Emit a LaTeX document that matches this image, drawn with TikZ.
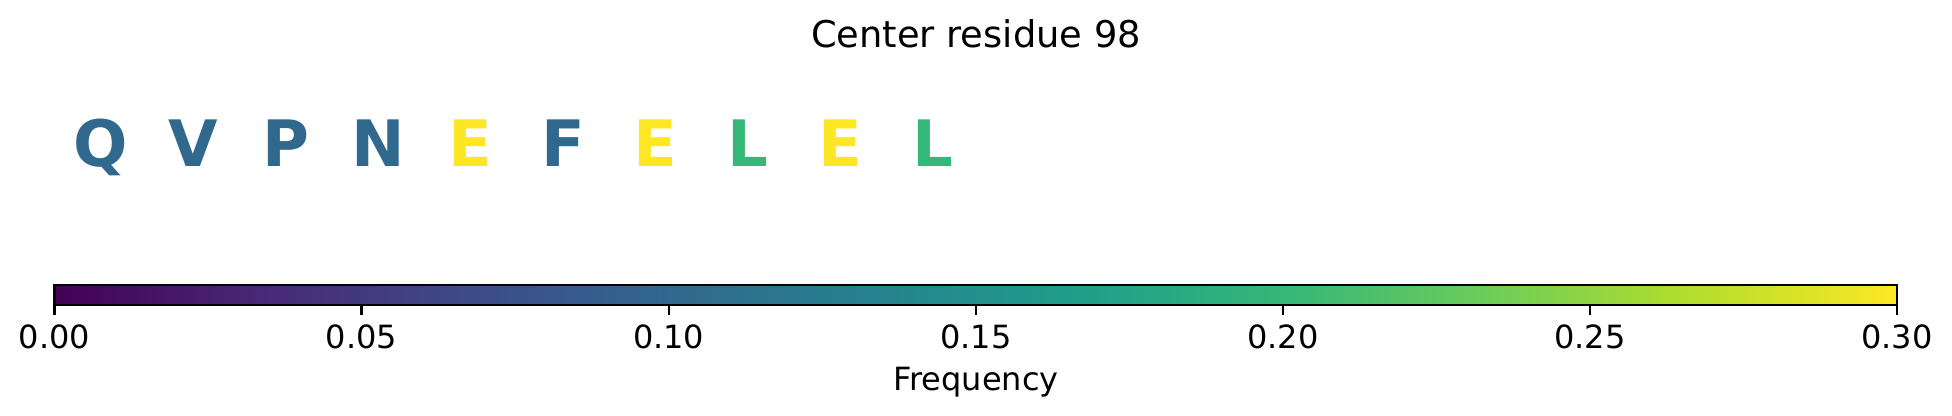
\documentclass[tikz,border=0pt]{standalone}
\usepackage{fontspec}
\setmainfont{DejaVu Sans}
\usetikzlibrary{positioning}

\definecolor{vir0}{HTML}{440154}
\definecolor{vir1}{HTML}{482878}
\definecolor{vir2}{HTML}{3E4A89}
\definecolor{vir3}{HTML}{31688E}
\definecolor{vir4}{HTML}{26828E}
\definecolor{vir5}{HTML}{1F9E89}
\definecolor{vir6}{HTML}{35B779}
\definecolor{vir7}{HTML}{6DCD59}
\definecolor{vir8}{HTML}{B4DE2C}
\definecolor{vir9}{HTML}{FDE725}
\pgfdeclarehorizontalshading{viridis}{100bp}{color(0bp)=(vir0); color(25bp)=(vir0);
  color(30.556bp)=(vir1); color(36.111bp)=(vir2); color(41.667bp)=(vir3);
  color(47.222bp)=(vir4); color(52.778bp)=(vir5); color(58.333bp)=(vir6);
  color(63.889bp)=(vir7); color(69.444bp)=(vir8); color(75bp)=(vir9); color(100bp)=(vir9)}

\begin{document}
\begin{tikzpicture}[x=0.5pt, y=-0.5pt]
        \tikzstyle{every node}=[inner sep=0pt]
        \tikzstyle{residue}=[anchor=base, font=\fontsize{32}{38}\selectfont\bfseries]
        \tikzstyle{ticklabel}=[anchor=base, font=\fontsize{16}{19}\selectfont]
        \useasboundingbox (0,0) rectangle (1952,416);
        \node [anchor=base, font=\fontsize{18.4}{22}\selectfont] (title) at (976,48) {Center residue 98};
        % sequence window around the center residue
        \foreach \res/\col [count=\i from 0] in {Q/vir3, V/vir3, P/vir3, N/vir3, E/vir9, F/vir3, E/vir9, L/vir6, E/vir9, L/vir6}
            \node [residue, text=\col] (res\i) at (101+92.4*\i,167) {\res};
        % colour bar
        \node [draw, line width=1.1pt, shading=viridis, minimum width=921.25pt, minimum height=10pt] (bar) at (975.75,295) {};
        \foreach \v [count=\k from 0] in {0.00,0.05,0.10,0.15,0.20,0.25,0.30} {
            \coordinate (tick\k) at (54.5+307.08*\k,305);
            \draw [line width=1.1pt] (tick\k) -- ++(0,9.7);
            \node [ticklabel] (lab\k) at (54.5+307.08*\k,348.5) {\v};
        }
        \node [ticklabel] (freq) at (976,390) {Frequency};
    \end{tikzpicture}
\end{document}
